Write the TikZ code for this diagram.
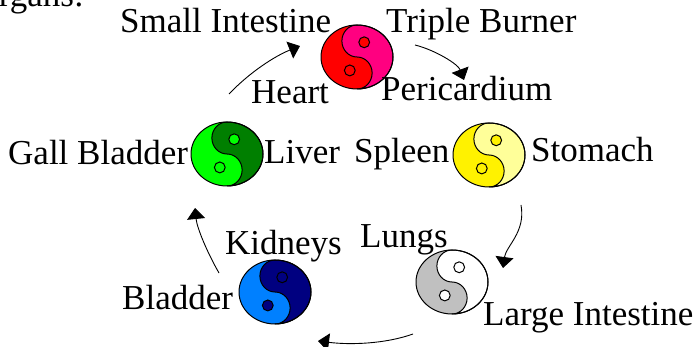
\documentclass[tikz,border=0pt]{standalone}
\usepackage{fontspec}
\setmainfont{Liberation Serif}
\usetikzlibrary{arrows.meta}
\definecolor{hotpink}{HTML}{FF0080}
\definecolor{darkgrn}{HTML}{007F00}
\definecolor{palelem}{HTML}{FFFF99}
\definecolor{skyblu}{HTML}{0080FF}
\definecolor{navyblu}{HTML}{000080}
\definecolor{lightgry}{HTML}{C0C0C0}
\tikzset{
  organ/.style={anchor=base west,inner sep=0pt,font=\fontsize{35}{38}\selectfont},
  cycle/.style={-{Triangle[length=11pt,width=18pt]},line width=0.9pt},
  yinline/.style={draw=black,line width=1pt}
}
% name, x, y, left colour, right colour, dot colour
\newcommand{\yinyang}[6]{
  \coordinate (#1) at (#2,#3);
  \begin{scope}[shift={(#1)},y=1pt,xscale=36,yscale=32]
    \fill[#4] (0,0) circle (1);
    \path[fill=#5,yinline] (0,1) arc (90:-90:1) arc (-90:90:0.42 and 0.5) arc (-90:-270:0.42 and 0.5) -- cycle;
    \draw[yinline] (0,0) circle (1);
    \path[fill=#6,yinline] (0.2,0.46) circle (0.15 and 0.17);
    \path[fill=#6,yinline] (-0.2,-0.42) circle (0.15 and 0.17);
  \end{scope}
}
\begin{document}
\begin{tikzpicture}[x=1pt,y=-1pt]
\path[use as bounding box,clip] (0,0) rectangle (696,347);
\yinyang{heartyy}{357}{57}{red}{hotpink}{red}
\yinyang{liveryy}{227}{154}{green}{darkgrn}{green}
\yinyang{spleenyy}{489}{155}{yellow}{palelem}{yellow}
\yinyang{lungsyy}{452}{282}{lightgry}{white}{white}
\yinyang{kidneyyy}{275}{292}{skyblu}{navyblu}{navyblu}
\node[organ,anchor=base east] (title) at (84,7) {rgans:};
\node[organ] (smallint) at (120,33) {Small Intestine};
\node[organ] (triple) at (386,33) {Triple Burner};
\node[organ] (heart) at (251,104) {Heart};
\node[organ] (peri) at (381,101) {Pericardium};
\node[organ] (gall) at (8,165) {Gall Bladder};
\node[organ] (liver) at (264,164) {Liver};
\node[organ] (spleen) at (354,163) {Spleen};
\node[organ] (stomach) at (531,162) {Stomach};
\node[organ] (kidneys) at (225,255) {Kidneys};
\node[organ] (lungs) at (360,248) {Lungs};
\node[organ] (bladder) at (122,309) {Bladder};
\node[organ] (largeint) at (483,325) {Large Intestine};
\coordinate (a1) at (229,94); \coordinate (a2) at (300,46);
\coordinate (b1) at (415,45); \coordinate (b2) at (464,80);
\coordinate (c1) at (521,205); \coordinate (c2) at (503,268);
\coordinate (d1) at (413,334); \coordinate (d2) at (318,341);
\coordinate (e1) at (219,273); \coordinate (e2) at (195,208);
\draw[cycle] (a1) .. controls (250,72) and (275,56) .. (a2);
\draw[cycle] (b1) .. controls (435,50) and (458,64) .. (b2);
\draw[cycle] (c1) .. controls (526,232) and (506,246) .. (c2);
\draw[cycle] (d1) .. controls (385,344) and (350,345) .. (d2);
\draw[cycle] (e1) .. controls (207,252) and (197,228) .. (e2);
\end{tikzpicture}
\end{document}
